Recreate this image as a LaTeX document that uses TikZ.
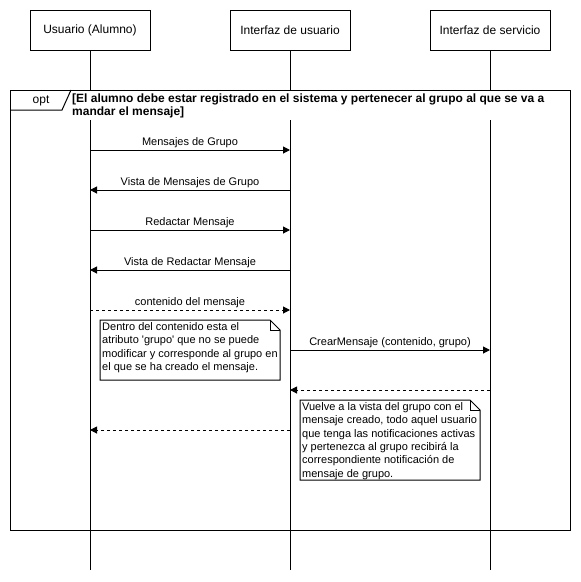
\documentclass[tikz,border=0pt]{standalone}
\usepackage{fontspec}
\setmainfont{Liberation Sans}
\usetikzlibrary{arrows.meta}
\begin{document}
\begin{tikzpicture}[x=1pt,y=-1pt,
  every node/.style={font=\fontsize{11}{13.2}\selectfont, inner sep=0pt},
  headbox/.style={draw, line width=1pt, minimum width=120pt, minimum height=40pt, font=\fontsize{12}{14}\selectfont},
  lifeline/.style={line width=1pt},
  msg/.style={line width=1pt, -{Triangle[length=7pt,width=7pt]}},
  ret/.style={msg, dash pattern=on 3pt off 3pt},
  lbl/.style={anchor=base, font=\fontsize{11}{13}\selectfont},
  notetext/.style={anchor=north west, align=left, font=\fontsize{11}{13.3}\selectfont},
  outline/.style={line width=1pt}
]
\useasboundingbox (0,0) rectangle (581,582);
\fill[white] (0,0) rectangle (581,582);

% lifeline heads
\node[headbox] (A) at (90,30) {Usuario (Alumno)};
\node[headbox] (B) at (290,30) {Interfaz de usuario};
\node[headbox] (C) at (490,30) {Interfaz de servicio};
\coordinate (Aend) at (90,570);
\coordinate (Bend) at (290,570);
\coordinate (Cend) at (490,570);
\draw[lifeline] (A.south) -- (Aend);
\draw[lifeline] (B.south) -- (Bend);
\draw[lifeline] (C.south) -- (Cend);

% opt frame
\coordinate (F1) at (10,90);
\coordinate (F2) at (570,530);
\fill[white] (10,90) rectangle (570,120);
\draw[outline] (F1) rectangle (F2);
\draw[outline] (10,110) -- (62,110) -- (71,90);
\node (opt) at (41,101) {\fontsize{12}{14}\selectfont opt};
\node[anchor=north west, align=left, font=\bfseries\fontsize{12}{13.6}\selectfont] (guard) at (72,93.5)
  {[El alumno debe estar registrado en el sistema y pertenecer al grupo al que se va a\\mandar el mensaje]};

% message endpoints
\foreach \y [count=\i] in {150,190,230,270,310,350,390,430} {
  \coordinate (a\i) at (90,\y);
  \coordinate (b\i) at (290,\y);
  \coordinate (c\i) at (490,\y);
}

\draw[msg] (a1) -- (b1) node[lbl, midway, yshift=5pt] {Mensajes de Grupo};
\draw[msg] (b2) -- (a2) node[lbl, midway, yshift=5pt] {Vista de Mensajes de Grupo};
\draw[msg] (a3) -- (b3) node[lbl, midway, yshift=5pt] {Redactar Mensaje};
\draw[msg] (b4) -- (a4) node[lbl, midway, yshift=5pt] {Vista de Redactar Mensaje};
\draw[ret] (a5) -- (b5) node[lbl, midway, yshift=5pt] {contenido del mensaje};
\draw[msg] (b6) -- (c6) node[lbl, midway, yshift=5pt] {CrearMensaje (contenido, grupo)};
\draw[ret] (c7) -- (b7);
\draw[ret] (b8) -- (a8);

% note 1
\fill[white] (100,320) rectangle (280,380);
\draw[outline] (100,320) -- (270,320) -- (280,330) -- (280,380) -- (100,380) -- cycle;
\draw[outline] (270,320) -- (270,330) -- (280,330);
\node[notetext] (note1) at (102,322.5)
  {Dentro del contenido esta el\\atributo \textquotesingle grupo\textquotesingle{} que no se puede\\modificar y corresponde al grupo en\\el que se ha creado el mensaje.};

% note 2
\fill[white] (300,400) rectangle (480,480);
\draw[outline] (300,400) -- (470,400) -- (480,410) -- (480,480) -- (300,480) -- cycle;
\draw[outline] (470,400) -- (470,410) -- (480,410);
\node[notetext] (note2) at (302,402.5)
  {Vuelve a la vista del grupo con el\\mensaje creado, todo aquel usuario\\que tenga las notificaciones activas\\y pertenezca al grupo recibirá la\\correspondiente notificación de\\mensaje de grupo.};
\end{tikzpicture}
\end{document}
